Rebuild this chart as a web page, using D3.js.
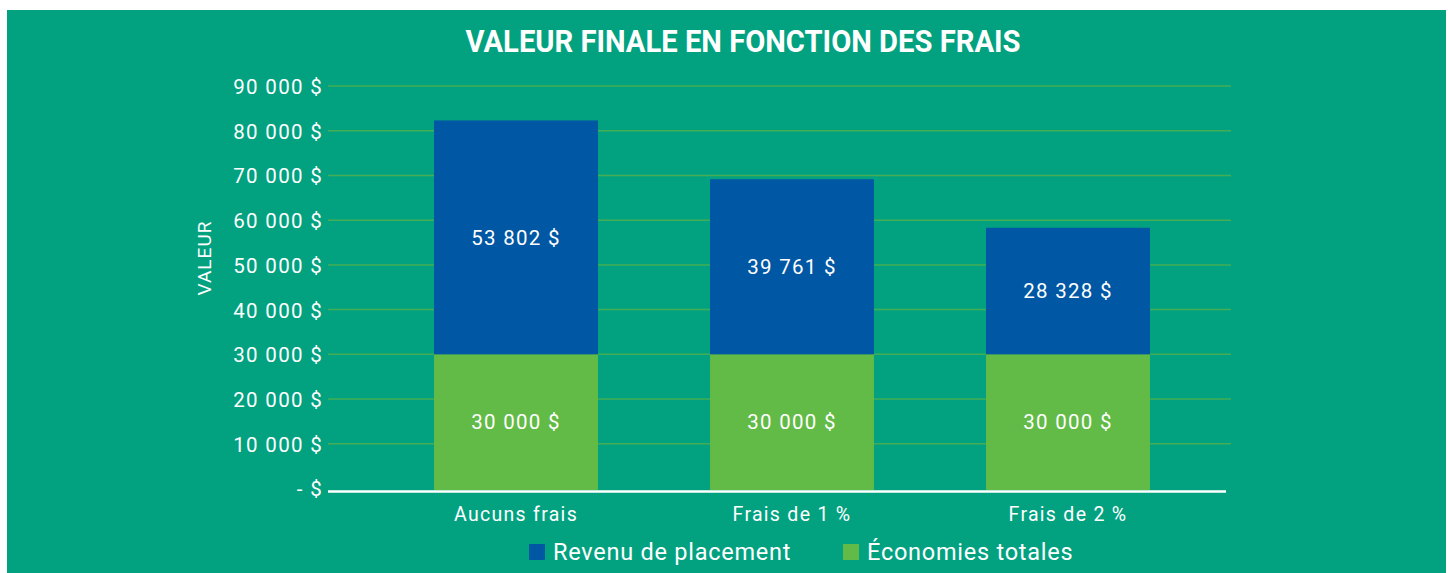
<!DOCTYPE html>
<html>
<head>
<meta charset="utf-8">
<script src="https://cdn.jsdelivr.net/npm/d3@7"></script>
<style>
  body { margin: 0; background: #fff; }
  svg text { font-family: Roboto, "Open Sans", sans-serif; fill: #fff; }
</style>
</head>
<body>
<div id="chart"></div>
<script>
// data
const categories = ['Aucuns frais', 'Frais de 1 %', 'Frais de 2 %'];
const economies = [30000, 30000, 30000];
const revenu = [52300, 39150, 28300];
const revenuLabels = ['53 802 $', '39 761 $', '28 328 $'];
const economiesLabels = ['30 000 $', '30 000 $', '30 000 $'];
const yTicks = [0, 10000, 20000, 30000, 40000, 50000, 60000, 70000, 80000, 90000];
const seriesNames = ['Revenu de placement', 'Économies totales'];

const W = 1448, H = 573;
const bg = '#02a281', blue = '#0057a4', green = '#62bb46', grid = '#45ae55';

const svg = d3.select('#chart')
    .append('svg')
    .attr('width', W)
    .attr('height', H);

// green panel
svg.append('rect')
    .attr('x', 7).attr('y', 10)
    .attr('width', 1439).attr('height', H - 10)
    .attr('fill', bg);

svg.append('text')
    .attr('x', 743).attr('y', 52)
    .attr('text-anchor', 'middle')
    .attr('font-size', 31)
    .attr('font-weight', 'bold')
    .attr('textLength', 555)
    .attr('lengthAdjust', 'spacingAndGlyphs')
    .text('VALEUR FINALE EN FONCTION DES FRAIS');

const x = d3.scaleBand()
    .domain(categories)
    .range([378, 1206])
    .paddingInner(0.406)
    .paddingOuter(0.203);

const y = d3.scaleLinear()
    .domain([0, 90000])
    .range([488.5, 86]);

const fmt = d => d === 0 ? '- $' : d3.format(',')(d).replace(/,/g, ' ') + ' $';

// gridlines
svg.append('g')
    .selectAll('line')
    .data(yTicks.slice(1))
    .join('line')
    .attr('x1', 328).attr('x2', 1231)
    .attr('y1', d => y(d)).attr('y2', d => y(d))
    .attr('stroke', grid)
    .attr('stroke-width', 1.5);

// y axis labels
const yAxis = d3.axisLeft(y)
    .tickValues(yTicks)
    .tickSize(0)
    .tickPadding(0)
    .tickFormat(fmt);

const gy = svg.append('g')
    .attr('transform', 'translate(323,0)')
    .call(yAxis);
gy.select('.domain').remove();
gy.selectAll('text')
    .attr('font-size', 20.5)
    .attr('letter-spacing', 1.3)
    .attr('fill', '#fff')
    .attr('dy', '0.36em')
    .style('font-family', 'Roboto, sans-serif');

svg.append('text')
    .attr('transform', 'translate(211,258) rotate(-90)')
    .attr('text-anchor', 'middle')
    .attr('font-size', 19)
    .attr('letter-spacing', 1)
    .text('VALEUR');

// bars
const rows = categories.map((c, i) => ({
  cat: c, eco: economies[i], rev: revenu[i],
  ecoLabel: economiesLabels[i], revLabel: revenuLabels[i]
}));

const bars = svg.append('g');
bars.selectAll('.eco')
    .data(rows)
    .join('rect')
    .attr('class', 'eco')
    .attr('x', d => x(d.cat))
    .attr('width', x.bandwidth())
    .attr('y', d => y(d.eco))
    .attr('height', d => y(0) - y(d.eco) + 1.5)
    .attr('fill', green);

bars.selectAll('.rev')
    .data(rows)
    .join('rect')
    .attr('class', 'rev')
    .attr('x', d => x(d.cat))
    .attr('width', x.bandwidth())
    .attr('y', d => y(d.eco + d.rev))
    .attr('height', d => y(d.eco) - y(d.eco + d.rev))
    .attr('fill', blue);

// baseline
svg.append('line')
    .attr('x1', 328).attr('x2', 1226)
    .attr('y1', 491.5).attr('y2', 491.5)
    .attr('stroke', '#fff')
    .attr('stroke-width', 2.5);

// value labels
const labels = svg.append('g')
    .attr('text-anchor', 'middle')
    .attr('font-size', 20.5)
    .attr('letter-spacing', 1.3);
labels.selectAll('.lr')
    .data(rows)
    .join('text')
    .attr('x', d => x(d.cat) + x.bandwidth() / 2)
    .attr('y', d => y(d.eco + d.rev / 2))
    .attr('dy', '0.36em')
    .text(d => d.revLabel);
labels.selectAll('.le')
    .data(rows)
    .join('text')
    .attr('x', d => x(d.cat) + x.bandwidth() / 2)
    .attr('y', d => y(d.eco / 2))
    .attr('dy', '0.36em')
    .text(d => d.ecoLabel);

// category labels
svg.append('g')
    .selectAll('text')
    .data(categories)
    .join('text')
    .attr('x', d => x(d) + x.bandwidth() / 2)
    .attr('y', 514)
    .attr('dy', '0.36em')
    .attr('text-anchor', 'middle')
    .attr('font-size', 19.5)
    .attr('letter-spacing', 1.3)
    .text(d => d);

// legend
const legendX = [529, 843];
const legendColors = [blue, green];
const lg = svg.append('g')
    .selectAll('g')
    .data(seriesNames)
    .join('g')
    .attr('transform', (d, i) => `translate(${legendX[i]},544)`);
lg.append('rect')
    .attr('width', 16).attr('height', 16)
    .attr('fill', (d, i) => legendColors[i]);
lg.append('text')
    .attr('x', 24).attr('y', 8)
    .attr('dy', '0.36em')
    .attr('font-size', 23.5)
    .attr('letter-spacing', 0.75)
    .text(d => d);
</script>
</body>
</html>
